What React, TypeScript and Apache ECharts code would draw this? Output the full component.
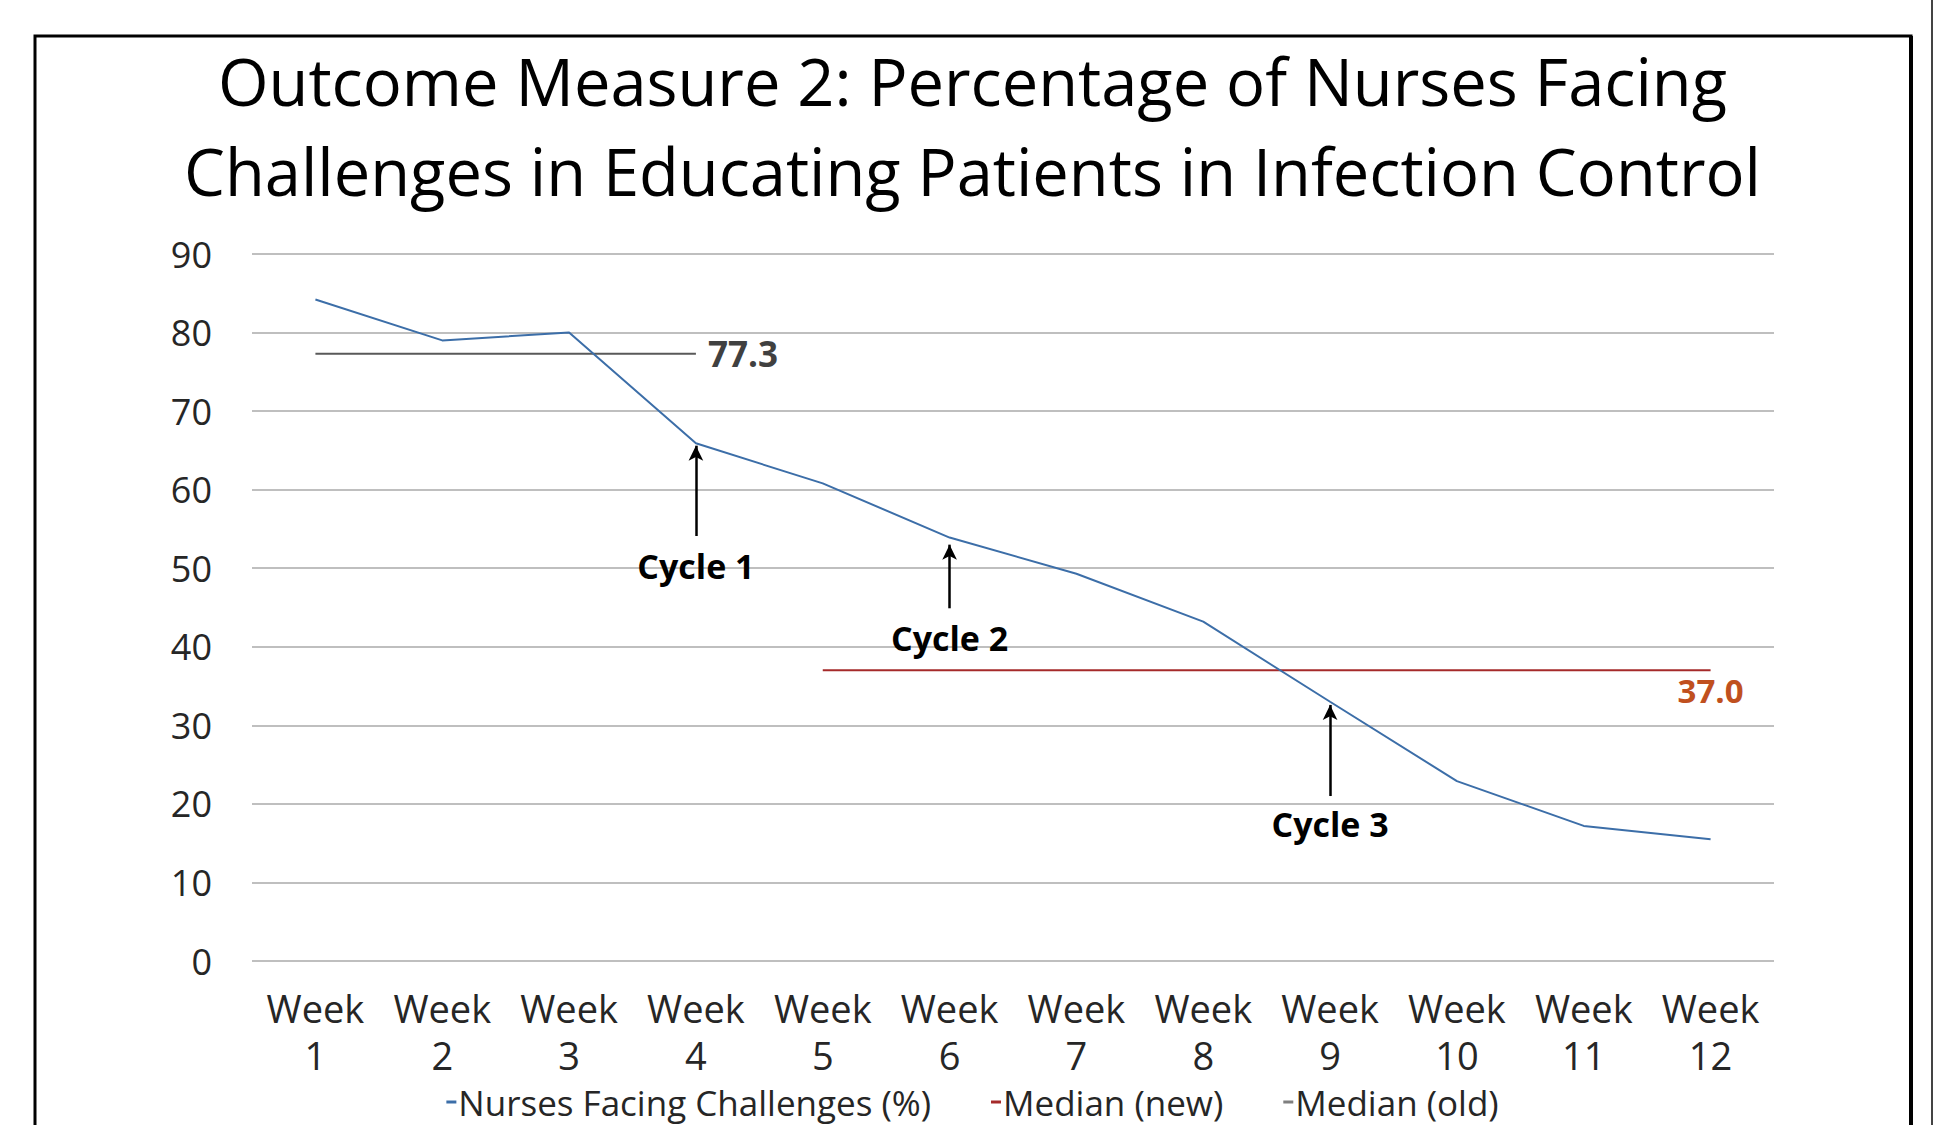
import React, { useEffect, useRef } from "react";
import * as echarts from "echarts";

const categories = ["Week 1", "Week 2", "Week 3", "Week 4", "Week 5", "Week 6", "Week 7", "Week 8", "Week 9", "Week 10", "Week 11", "Week 12"];
const nurses = [84.2, 79.0, 80.0, 65.9, 60.8, 53.9, 49.3, 43.2, 33.0, 22.9, 17.2, 15.5];
const medianNew = [null, null, null, null, 37.0, 37.0, 37.0, 37.0, 37.0, 37.0, 37.0, 37.0];
const medianOld = [77.3, 77.3, 77.3, 77.3, null, null, null, null, null, null, null, null];
const yTicks = { min: 0, max: 90, interval: 10 };

const cycleNames = ["Cycle 1", "Cycle 2", "Cycle 3"];
const cycleWeekIdx = [3, 5, 8];
const arrowFrom = [54.1, 44.9, 21.0];
const arrowTo = [65.6, 53.0, 32.6];
const cycleLabelY = [50.3, 41.1, 17.4];

const FONT = "Open Sans";

export default function App() {
  const ref = useRef<HTMLDivElement>(null);
  useEffect(() => {
    const chart = echarts.init(ref.current!, null, { renderer: "svg" });
    const lastNewIdx = medianNew.length - 1;
    let lastOldIdx = 0;
    medianOld.forEach((v, i) => { if (v != null) lastOldIdx = i; });

    const hiddenLabel = { show: false };

    chart.setOption({
      animation: false,
      backgroundColor: "#ffffff",
      title: {
        text: "Outcome Measure 2: Percentage of Nurses Facing\nChallenges in Educating Patients in Infection Control",
        left: "center",
        top: 31,
        textStyle: { fontFamily: FONT, fontSize: 65, fontWeight: "normal", color: "#000", lineHeight: 90 },
      },
      legend: {
        top: 1079,
        left: "center",
        padding: 0,
        data: [
          { name: "Nurses Facing Challenges (%)", itemStyle: { color: "#3C6EA8" } },
          { name: "Median (new)", itemStyle: { color: "#A52A2A" } },
          { name: "Median (old)", itemStyle: { color: "#7F7F7F" } },
        ],
        icon: "rect",
        itemWidth: 10,
        itemHeight: 3,
        itemGap: 60,
        textStyle: { fontFamily: FONT, fontSize: 35, lineHeight: 46, color: "#262626", padding: [0, 0, 0, -3] },
      },
      grid: { left: 252, right: 171, top: 254, bottom: 164 },
      xAxis: {
        type: "category",
        data: categories,
        boundaryGap: true,
        axisLine: { show: false },
        axisTick: { show: false },
        axisLabel: {
          interval: 0,
          margin: 23,
          fontFamily: FONT,
          fontSize: 38,
          lineHeight: 47,
          color: "#262626",
          formatter: (v: string) => v.replace(" ", "\n"),
        },
      },
      yAxis: {
        type: "value",
        min: yTicks.min,
        max: yTicks.max,
        interval: yTicks.interval,
        axisLine: { show: false },
        axisTick: { show: false },
        axisLabel: { margin: 40, fontFamily: FONT, fontSize: 36, color: "#262626" },
        splitLine: { lineStyle: { color: "#BFBFBF", width: 2 } },
      },
      graphic: [
        { type: "rect", shape: { x: 35, y: 36, width: 1876, height: 1200 }, style: { fill: "none", stroke: "#000", lineWidth: 3 }, silent: true },
        { type: "line", shape: { x1: 1911, y1: 36, x2: 1911, y2: 1125 }, style: { stroke: "#000", lineWidth: 4 }, silent: true },
        { type: "line", shape: { x1: 1932, y1: 0, x2: 1932, y2: 1125 }, style: { stroke: "#444", lineWidth: 2 }, silent: true },
      ],
      series: [
        {
          name: "Nurses Facing Challenges (%)",
          type: "line",
          data: nurses,
          showSymbol: false,
          symbol: "none",
          lineStyle: { color: "#3C6EA8", width: 2 },
          itemStyle: { color: "#3C6EA8" },
          z: 5,
        },
        {
          name: "Median (new)",
          type: "line",
          data: medianNew.map((v, i) =>
            i === lastNewIdx
              ? { value: v, label: { show: true, position: "bottom", distance: 4, formatter: (p: any) => Number(p.value).toFixed(1), fontFamily: FONT, fontSize: 33, fontWeight: "bold", color: "#C0501E" } }
              : v
          ),
          symbol: "circle",
          symbolSize: 0,
          showSymbol: true,
          label: hiddenLabel,
          lineStyle: { color: "#A52A2A", width: 2 },
          itemStyle: { color: "#A52A2A" },
          z: 4,
        },
        {
          name: "Median (old)",
          type: "line",
          data: medianOld.map((v, i) =>
            i === lastOldIdx
              ? { value: v, label: { show: true, position: "right", distance: 12, formatter: (p: any) => Number(p.value).toFixed(1), fontFamily: FONT, fontSize: 35, fontWeight: "bold", color: "#404040" } }
              : v
          ),
          symbol: "circle",
          symbolSize: 0,
          showSymbol: true,
          label: hiddenLabel,
          lineStyle: { color: "#595959", width: 2 },
          itemStyle: { color: "#595959" },
          z: 4,
        },
        {
          name: "annotations",
          type: "line",
          data: [],
          symbol: "none",
          z: 6,
          markLine: {
            silent: true,
            symbol: ["none", "arrow"],
            symbolSize: [11, 15],
            lineStyle: { color: "#000", width: 2.5, type: "solid" },
            label: { show: false },
            data: cycleNames.map((n, i) => [
              { coord: [cycleWeekIdx[i], arrowFrom[i]] },
              { coord: [cycleWeekIdx[i], arrowTo[i]] },
            ]),
          },
          markPoint: {
            silent: true,
            symbol: "circle",
            symbolSize: 0,
            label: { show: true, position: "inside", fontFamily: FONT, fontSize: 34, fontWeight: "bold", color: "#000", formatter: (p: any) => p.name },
            data: cycleNames.map((n, i) => ({ name: n, coord: [cycleWeekIdx[i], cycleLabelY[i]] })),
          },
        },
      ],
    });
    return () => chart.dispose();
  }, []);
  return <div ref={ref} style={{ position: "fixed", left: 0, top: 0, width: 1945, height: 1125 }} />;
}
